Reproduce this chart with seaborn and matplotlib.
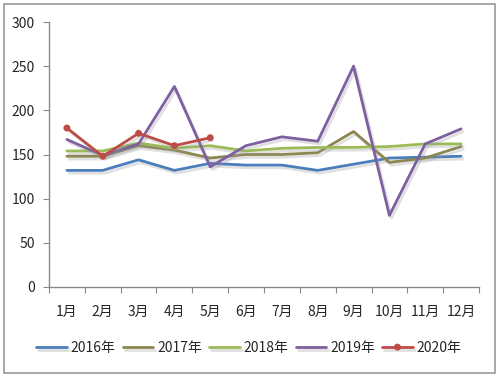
import numpy as np
import pandas as pd
import matplotlib
matplotlib.use("Agg")
import matplotlib.pyplot as plt
import matplotlib.patheffects as pe
import seaborn as sns

months = ["1月", "2月", "3月", "4月", "5月", "6月", "7月", "8月", "9月", "10月", "11月", "12月"]
y2016 = [132, 132, 144, 132, 140, 138, 138, 132, 139, 146, 147, 148]
y2017 = [148, 148, 160, 155, 146, 150, 150, 152, 176, 141, 146, 159]
y2018 = [154, 154, 163, 157, 160, 154, 157, 158, 158, 159, 162, 162]
y2019 = [167, 149, 162, 227, 136, 160, 170, 165, 250, 81, 162, 179]
y2020 = [180, 148, 174, 160, 169]

series_names = ["2016年", "2017年", "2018年", "2019年", "2020年"]
colors = ["#4A7EBB", "#8C8650", "#9BBB59", "#7D60A0", "#BE4B48"]

rows = []
for name, vals in zip(series_names, [y2016, y2017, y2018, y2019, y2020]):
    for i, v in enumerate(vals):
        rows.append({"month": i, "value": v, "year": name})
df = pd.DataFrame(rows)

sns.set_style("white")
plt.rcParams['font.family'] = ['Noto Sans CJK SC', 'DejaVu Sans']

fig = plt.figure(figsize=(4.99, 3.78), dpi=100)
ax = fig.add_axes([49 / 499, 1 - 287 / 378, 430 / 499, 265 / 378])

shadow = [pe.SimpleLineShadow(offset=(1.5, -2), shadow_color="#999999", alpha=0.3), pe.Normal()]
for name, c in zip(series_names, colors):
    sub = df[df.year == name]
    sns.lineplot(data=sub, x="month", y="value", ax=ax, color=c, lw=2.0,
                 marker="o" if name == "2020年" else None, markersize=5,
                 markeredgewidth=0, label=name, path_effects=shadow)

ax.set_xlim(-0.5, 11.5)
ax.set_ylim(0, 300)
ax.set_yticks(range(0, 301, 50))
ax.set_xticks(np.arange(-0.5, 12, 1))
ax.set_xticklabels([])
ax.set_xticks(range(12), minor=True)
ax.set_xticklabels(months, minor=True)
ax.tick_params(axis="x", which="major", length=4, color="#888888", direction="out", bottom=True)
ax.tick_params(axis="x", which="minor", length=0, pad=13, labelsize=10)
ax.tick_params(axis="y", length=4, color="#888888", direction="out", left=True, labelsize=10, pad=6)
ax.set_xlabel("")
ax.set_ylabel("")
for s in ["top", "right"]:
    ax.spines[s].set_visible(False)
for s in ["left", "bottom"]:
    ax.spines[s].set_color("#888888")
    ax.spines[s].set_linewidth(1)

ax.legend(loc="center", bbox_to_anchor=(0.465, -0.23), ncol=5, frameon=False,
          fontsize=10, handlelength=2.2, handletextpad=0.3, columnspacing=0.5)

# outer frame
fig.patches.append(plt.Rectangle((4 / 499, 5 / 378), 491 / 499, 369 / 378, transform=fig.transFigure,
                                 fill=False, edgecolor="#999999", lw=1.2))

fig.savefig("out.png", dpi=100)
